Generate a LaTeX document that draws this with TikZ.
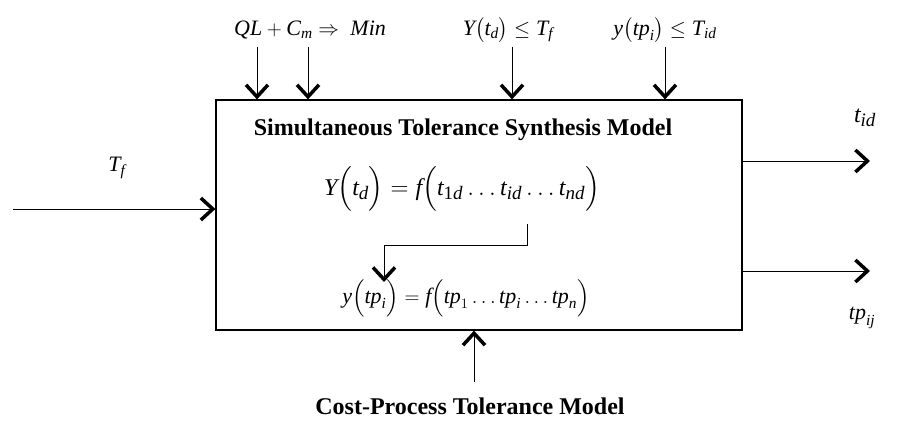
\documentclass[tikz,border=0pt]{standalone}
\usepackage{amsmath}
\usepackage{fontspec}
\setmainfont{Liberation Serif}
\usetikzlibrary{arrows.meta}
\newcommand\vi[1]{\textit{#1}}
\newcommand\sbx[1]{\mbox{\fontsize{19}{20}\selectfont\itshape #1}}
\begin{document}
\begin{tikzpicture}[x=1pt,y=-1pt,
  conn/.style={line width=1pt, -{Straight Barb[length=12pt,width=22pt,line width=3.5pt]}},
  lbl/.style={font=\fontsize{22}{24}\selectfont, inner sep=0pt},
  eqa/.style={font=\fontsize{24}{26}\selectfont, inner sep=0pt},
  eqb/.style={font=\fontsize{22}{24}\selectfont, inner sep=0pt},
  ttl/.style={font=\bfseries\fontsize{24}{28}\selectfont, inner sep=0pt},
  ]
\useasboundingbox (0,0) rectangle (906,440);
\node[draw, line width=1.2pt, minimum width=526pt, minimum height=230pt, inner sep=0pt] (box) at (479,215) {};
\node[ttl] (title) at (463,130) {Simultaneous Tolerance Synthesis Model};
\node[eqa] (eq1) at (462,189) {$\vi{Y}\Bigl(\vi{t}_{\sbx{d}}\Bigr) = \vi{f}\Bigl(\vi{t}_{\sbx{{\upshape 1}d}}\dots\vi{t}_{\sbx{id}}\dots\vi{t}_{\sbx{nd}}\Bigr)$};
\node[eqb] (eq2) at (466,298) {$\vi{y}\Bigl(\vi{tp}_{\vi{i}}\Bigr) = \vi{f}\Bigl(\vi{tp}_{1}\dots\vi{tp}_{\vi{i}}\dots\vi{tp}_{\vi{n}}\Bigr)$};
\coordinate (cA) at (527,224);
\coordinate (cM) at (384,245);
\coordinate (cB) at (384,282);
\draw[conn] (cA) |- (cM) -- (cB);
% top inputs
\node[lbl] (q1) at (310,30) {$\vi{QL} + \vi{C}_{\vi{m}} \Rightarrow\ \vi{Min}$};
\node[lbl] (q2) at (508,30) {$\vi{Y}\bigl(\vi{t}_{\vi{d}}\bigr) \leq \vi{T}_{\vi{f}}$};
\node[lbl] (q3) at (665,30) {$\vi{y}\bigl(\vi{tp}_{\vi{i}}\bigr) \leq \vi{T}_{\vi{id}}$};
\coordinate (a1) at (257,47);
\coordinate (a2) at (308,47);
\coordinate (a3) at (512,47);
\coordinate (a4) at (665,47);
\foreach \a in {a1,a2,a3,a4} \draw[conn] (\a) -- (\a |- box.north);
% left input
\node[lbl] (tf) at (117,168) {$\vi{T}_{\vi{f}}$};
\coordinate (l0) at (13,209);
\draw[conn] (l0) -- (l0 -| box.west);
% outputs
\node[eqa] (tid) at (865,118) {$\vi{t}_{\sbx{id}}$};
\node[lbl] (tpij) at (862,318) {$\vi{tp}_{\vi{ij}}$};
\coordinate (r1) at (870,161);
\coordinate (r2) at (870,271);
\draw[conn] (r1 -| box.east) -- (r1);
\draw[conn] (r2 -| box.east) -- (r2);
% bottom mechanism
\coordinate (b0) at (474,382);
\draw[conn] (b0) -- (b0 |- box.south);
\node[ttl] (cost) at (470,406) {Cost-Process Tolerance Model};
\end{tikzpicture}
\end{document}
